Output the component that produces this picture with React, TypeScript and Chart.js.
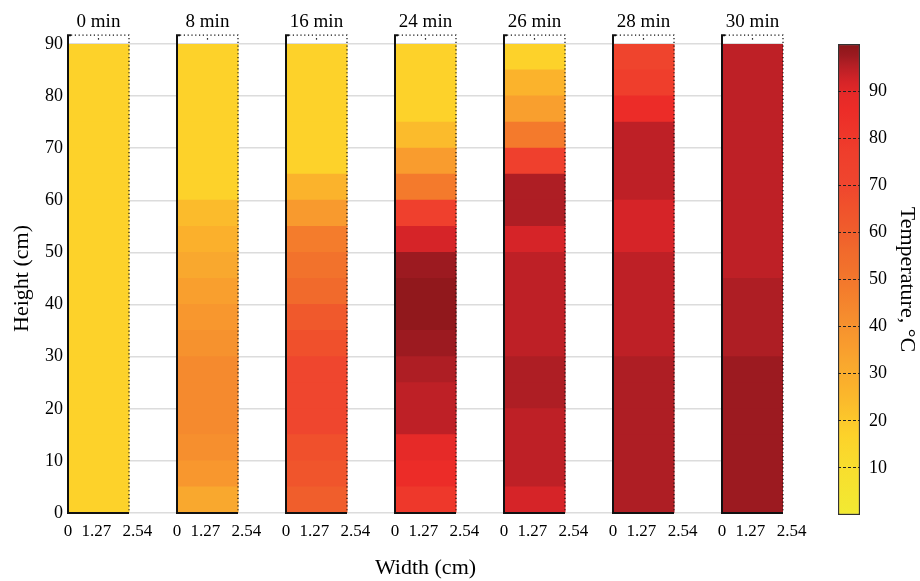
import React, { useEffect, useRef } from 'react';
import { Chart, registerables } from 'chart.js';

Chart.register(...registerables);

// ---------- data ----------
const TIMES = ['0 min', '8 min', '16 min', '24 min', '26 min', '28 min', '30 min'];
const HEIGHT_EDGES = [0, 5, 10, 15, 20, 25, 30, 35, 40, 45, 50, 55, 60, 65, 70, 75, 80, 85, 90];

// Temperatures (°C) per 5 cm band, bottom (0-5 cm) to top (85-90 cm)
const T_0 = [17, 17, 17, 17, 17, 17, 17, 17, 17, 17, 17, 17, 17, 17, 17, 17, 17, 17];
const T_8 = [32, 38, 41, 43, 43, 43, 40, 38, 35, 32, 28, 24, 17, 17, 17, 17, 17, 17];
const T_16 = [60, 64, 66, 70, 70, 70, 66, 62, 56, 52, 48, 37, 27, 17, 17, 17, 17, 17];
const T_24 = [80, 86, 89, 94.5, 94.5, 96, 97.5, 99, 99, 97.5, 92, 75, 49, 36, 24, 17, 17, 17];
const T_26 = [92, 94.5, 94.5, 94.5, 96, 96, 94.5, 94.5, 94.5, 94.5, 92, 96, 96, 75, 49, 35, 27, 17];
const T_28 = [96, 96, 96, 96, 96, 96, 94.5, 94.5, 94.5, 94.5, 92, 92, 94.5, 94.5, 94.5, 86, 77, 72];
const T_30 = [97.5, 97.5, 97.5, 97.5, 97.5, 97.5, 96, 96, 96, 94.5, 94.5, 94.5, 94.5, 94.5, 94.5, 94.5, 94.5, 94.5];
const TEMPS = [T_0, T_8, T_16, T_24, T_26, T_28, T_30];

const COLUMN_WIDTH = 2.54; // cm
const COLUMN_PITCH = 4.5387; // x-units from one column's start to the next
const X_TICK_OFFSETS = [0, 1.27, 2.54];
const X_TICK_LABELS = ['0', '1.27 ', '    2.54'];
const Y_MIN = 0;
const Y_MAX = 90;
const Y_STEP = 10;
const FRAME_TOP = 91.7;

const CBAR_MIN = 0;
const CBAR_MAX = 100;
const CBAR_TICKS = [10, 20, 30, 40, 50, 60, 70, 80, 90];

// colormap (value -> colour)
const CMAP_VALUES = [0, 10, 17, 24, 28, 32, 36, 40, 43, 48, 52, 56, 60, 66, 70, 77, 86, 89, 92, 94.5, 96, 97.5, 100];
const CMAP_COLORS = [
  '#f2ea32', '#f8de2e', '#fdd22a', '#fbbb2c', '#fbb02c', '#f9a82e', '#f99c2e', '#f6922e',
  '#f58a2e', '#f47c2c', '#f2722c', '#f16a2c', '#f05e2c', '#f0502c', '#ef462e', '#ef3e2c',
  '#ec2c28', '#e62a28', '#d62428', '#be2026', '#ae1e24', '#9c1a20', '#8a1619',
];

const FONT = '"Liberation Serif", "Times New Roman", serif';

function hexToRgb(h: string) {
  const n = parseInt(h.slice(1), 16);
  return [(n >> 16) & 255, (n >> 8) & 255, n & 255];
}

function tempColor(v: number) {
  if (v <= CMAP_VALUES[0]) return CMAP_COLORS[0];
  for (let k = 1; k < CMAP_VALUES.length; k++) {
    if (v <= CMAP_VALUES[k]) {
      const t = (v - CMAP_VALUES[k - 1]) / (CMAP_VALUES[k] - CMAP_VALUES[k - 1]);
      const a = hexToRgb(CMAP_COLORS[k - 1]);
      const b = hexToRgb(CMAP_COLORS[k]);
      const c = a.map((x, i) => Math.round(x + (b[i] - x) * t));
      return `rgb(${c[0]},${c[1]},${c[2]})`;
    }
  }
  return CMAP_COLORS[CMAP_COLORS.length - 1];
}

const MAIN_W = 823;
const CBAR_W = 920 - MAIN_W;

export default function App() {
  const mainRef = useRef<HTMLCanvasElement>(null);
  const cbarRef = useRef<HTMLCanvasElement>(null);

  useEffect(() => {
    document.body.style.margin = '0';

    const starts = TIMES.map((_, i) => i * COLUMN_PITCH);
    const centers = starts.map((s) => s + COLUMN_WIDTH / 2);
    const xTicks = starts.flatMap((s) => X_TICK_OFFSETS.map((o) => s + o));
    let minTickGap = Infinity;
    for (let i = 1; i < xTicks.length; i++) minTickGap = Math.min(minTickGap, xTicks[i] - xTicks[i - 1]);
    const xMax = starts[starts.length - 1] + COLUMN_WIDTH;

    const datasets = HEIGHT_EDGES.slice(0, -1).map((lo, j) => ({
      data: TIMES.map((_, i) => ({ x: centers[i], y: [lo, HEIGHT_EDGES[j + 1]] })),
      backgroundColor: TEMPS.map((col) => tempColor(col[j])),
      borderWidth: 0,
      inflateAmount: 0.5,
      grouped: false,
      categoryPercentage: 1,
      barPercentage: COLUMN_WIDTH / minTickGap,
    }));

    const framePlugin = {
      id: 'columnFrames',
      afterDatasetsDraw(chart: any) {
        const { ctx, scales } = chart;
        const xs = scales.x;
        const ys = scales.y;
        const yb = ys.getPixelForValue(0);
        const yt = ys.getPixelForValue(FRAME_TOP);
        ctx.save();
        starts.forEach((s, i) => {
          const x0 = xs.getPixelForValue(s);
          const x1 = xs.getPixelForValue(s + COLUMN_WIDTH);
          const xm = xs.getPixelForValue(s + COLUMN_WIDTH / 2);
          // solid left and bottom
          ctx.setLineDash([]);
          ctx.strokeStyle = '#111';
          ctx.lineWidth = 2;
          ctx.beginPath();
          ctx.moveTo(x0 + 3, yt);
          ctx.lineTo(x0, yt);
          ctx.lineTo(x0, yb);
          ctx.lineTo(x1, yb);
          ctx.stroke();
          // dotted top and right
          ctx.lineWidth = 1.2;
          ctx.setLineDash([1.2, 2.6]);
          ctx.beginPath();
          ctx.moveTo(x0 + 3, yt);
          ctx.lineTo(x1, yt);
          ctx.lineTo(x1, yb);
          ctx.stroke();
          ctx.setLineDash([]);
          ctx.lineWidth = 1.2;
          ctx.beginPath();
          ctx.moveTo(xm, yt + 3);
          ctx.lineTo(xm, yt + 4.5);
          ctx.stroke();
          // column title
          ctx.fillStyle = '#000';
          ctx.font = `19px ${FONT}`;
          ctx.textAlign = 'center';
          ctx.textBaseline = 'alphabetic';
          ctx.fillText(TIMES[i], xm, yt - 8);
        });
        ctx.restore();
      },
    };

    const main = new Chart(mainRef.current!, {
      type: 'bar',
      data: { datasets } as any,
      plugins: [framePlugin],
      options: {
        responsive: false,
        animation: false,
        events: [],
        layout: { padding: { left: 0, right: MAIN_W - 783, top: 44, bottom: 0 } },
        plugins: { legend: { display: false }, tooltip: { enabled: false } },
        scales: {
          x: {
            type: 'linear',
            min: 0,
            max: xMax,
            offset: false,
            afterBuildTicks: (s: any) => {
              s.ticks = xTicks.map((v) => ({ value: v }));
            },
            afterFit: (s: any) => {
              s.height = 68;
            },
            ticks: {
              autoSkip: false,
              maxRotation: 0,
              minRotation: 0,
              padding: 8,
              color: '#000',
              font: { family: FONT, size: 17 },
              callback: (_v: any, i: number) => X_TICK_LABELS[i % X_TICK_LABELS.length],
            },
            grid: { display: false, drawTicks: false, offset: false },
            border: { display: false },
            title: {
              display: true,
              text: 'Width (cm)',
              color: '#000',
              font: { family: FONT, size: 22, lineHeight: 1.2 },
              padding: { top: 0, bottom: 0 },
            },
          },
          y: {
            type: 'linear',
            min: Y_MIN,
            max: Y_MAX,
            afterFit: (s: any) => {
              s.width = 68;
            },
            ticks: {
              stepSize: Y_STEP,
              padding: 5,
              color: '#000',
              font: { family: FONT, size: 18 },
            },
            grid: { color: '#dcdcdc', lineWidth: 1.5, drawTicks: false },
            border: { display: false },
            title: {
              display: true,
              text: 'Height (cm)',
              color: '#000',
              font: { family: FONT, size: 22, lineHeight: 1.2 },
              padding: { top: 9, bottom: 0 },
            },
          },
        },
      } as any,
    });

    const gradientFill = (c: any) => {
      const chart = c.chart;
      if (!chart.chartArea) return 'transparent';
      const ys = chart.scales.y;
      const g = chart.ctx.createLinearGradient(0, ys.getPixelForValue(CBAR_MIN), 0, ys.getPixelForValue(CBAR_MAX));
      CMAP_VALUES.forEach((v, k) => g.addColorStop((v - CBAR_MIN) / (CBAR_MAX - CBAR_MIN), CMAP_COLORS[k]));
      return g;
    };

    const cbar = new Chart(cbarRef.current!, {
      type: 'bar',
      data: {
        labels: [''],
        datasets: [
          {
            data: [[CBAR_MIN, CBAR_MAX]],
            backgroundColor: gradientFill,
            borderColor: '#333',
            borderWidth: 1.5,
            borderSkipped: false,
            categoryPercentage: 1,
            barPercentage: 1,
          },
        ],
      } as any,
      options: {
        responsive: false,
        animation: false,
        events: [],
        layout: { padding: { left: 838 - MAIN_W, right: 0, top: 44, bottom: 66 } },
        plugins: { legend: { display: false }, tooltip: { enabled: false } },
        scales: {
          x: { display: false },
          y: {
            position: 'right',
            min: CBAR_MIN,
            max: CBAR_MAX,
            afterBuildTicks: (s: any) => {
              s.ticks = CBAR_TICKS.map((v) => ({ value: v }));
            },
            afterFit: (s: any) => {
              s.width = 920 - 860;
            },
            ticks: { padding: 9, color: '#000', font: { family: FONT, size: 18 } },
            grid: { color: '#222', lineWidth: 1, drawTicks: false, z: 1 },
            border: { display: false, dash: [3, 2] },
            title: {
              display: true,
              text: 'Temperature, °C',
              color: '#000',
              font: { family: FONT, size: 22, lineHeight: 1.2 },
              padding: { top: 0, bottom: 0 },
            },
          },
        },
      } as any,
    });

    return () => {
      main.destroy();
      cbar.destroy();
    };
  }, []);

  return (
    <div style={{ position: 'relative', width: 920, height: 581, background: '#fff' }}>
      <canvas ref={mainRef} width={MAIN_W} height={581} style={{ position: 'absolute', left: 0, top: 0 }} />
      <canvas ref={cbarRef} width={CBAR_W} height={581} style={{ position: 'absolute', left: MAIN_W, top: 0 }} />
    </div>
  );
}
